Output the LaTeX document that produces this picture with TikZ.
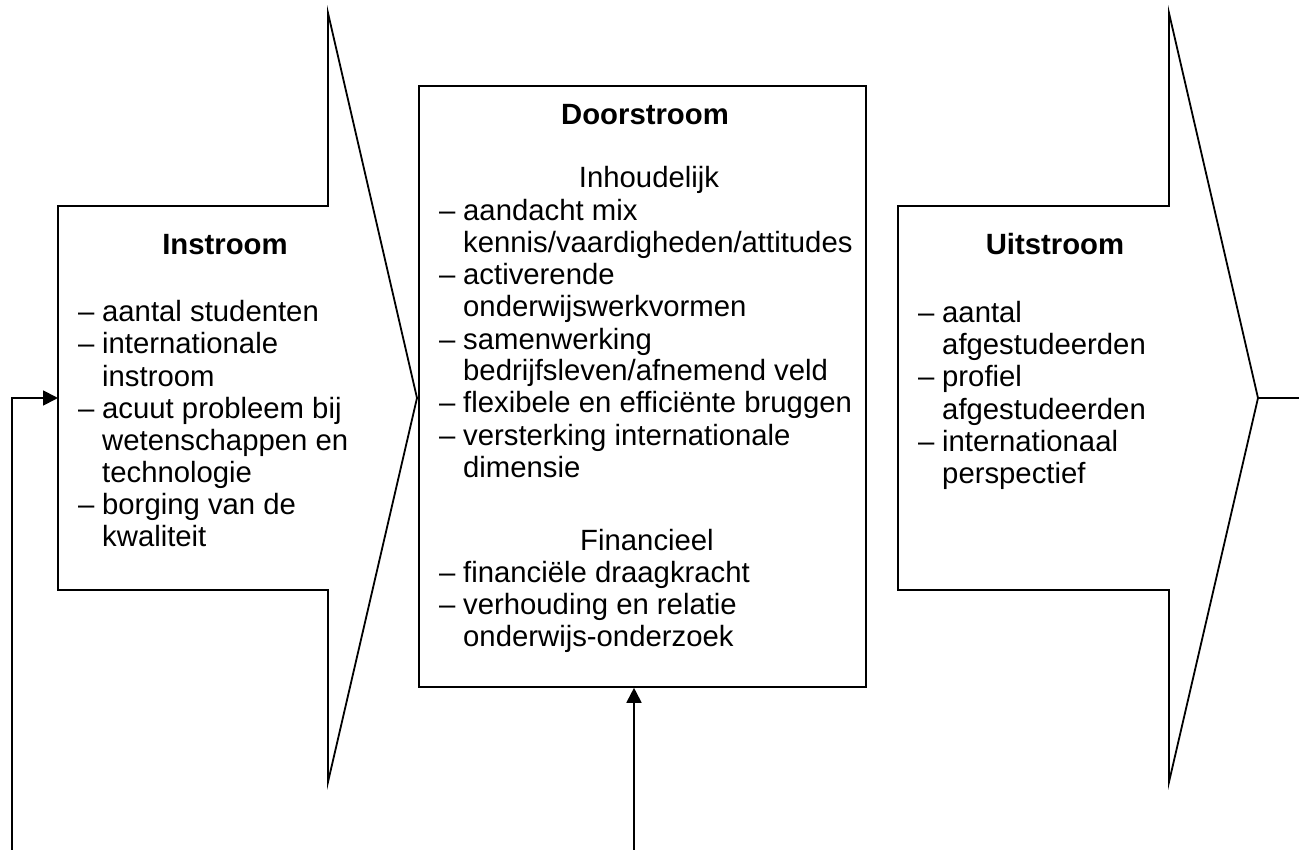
\documentclass[tikz,border=0pt]{standalone}
\usepackage{fontspec}
\setmainfont{Liberation Sans}
\usetikzlibrary{arrows.meta}
\newcommand\bul{\llap{\makebox[24pt][l]{–}}}
\begin{document}
\begin{tikzpicture}[x=1pt,y=-1pt,
  shapeline/.style={line width=1.8pt, line join=miter},
  txt/.style={inner sep=0pt, anchor=base west, font=\fontsize{29.3}{32}\selectfont},
  ttl/.style={inner sep=0pt, anchor=base, font=\fontsize{29.3}{32}\selectfont\bfseries},
  hd/.style={inner sep=0pt, anchor=base, font=\fontsize{29.3}{32}\selectfont},
  conn/.style={line width=1.8pt, -{Triangle[length=15pt,width=15pt]}}]
\useasboundingbox (0,0) rectangle (1299,850);

% left (Instroom) arrow shape
\draw[shapeline] (58,206) -- (328,206) -- (328,13) -- (417,398) -- (328,782) -- (328,590) -- (58,590) -- cycle;
% right (Uitstroom) arrow shape
\draw[shapeline] (898,206) -- (1169,206) -- (1169,13) -- (1258,398) coordinate (tipR) -- (1169,782) -- (1169,590) -- (898,590) -- cycle;
\coordinate (outR) at (1299,398);
\draw[shapeline] (tipR) -- (outR);

% middle box
\node[draw, line width=1.8pt, minimum width=447pt, minimum height=601pt, inner sep=0pt, anchor=north west] (mid) at (418,85) {};

% titles
\node[ttl] (tIn) at (225,255) {Instroom};
\node[ttl] (tDoor) at (645,125) {Doorstroom};
\node[hd] (tInh) at (649,188) {Inhoudelijk};
\node[hd] (tFin) at (647,550) {Financieel};
\node[ttl] (tUit) at (1055,255) {Uitstroom};

% left list
\foreach \t [count=\i from 0] in {\bul aantal studenten, \bul internationale, instroom, \bul acuut probleem bij, wetenschappen en, technologie, \bul borging van de, kwaliteit}
  \node[txt] (l\i) at (102,322+32*\i) {\t};

% middle list (inhoudelijk)
\foreach \t [count=\i from 0] in {\bul aandacht mix, kennis/vaardigheden/attitudes, \bul activerende, onderwijswerkvormen, \bul samenwerking, bedrijfsleven/afnemend veld, \bul flexibele en efficiënte bruggen, \bul versterking internationale, dimensie}
  \node[txt] (m\i) at (463,221+32*\i) {\t};

% middle list (financieel)
\foreach \t [count=\i from 0] in {\bul financiële draagkracht, \bul verhouding en relatie, onderwijs-onderzoek}
  \node[txt] (f\i) at (463,582+32*\i) {\t};

% right list
\foreach \t [count=\i from 0] in {\bul aantal, afgestudeerden, \bul profiel, afgestudeerden, \bul internationaal, perspectief}
  \node[txt] (r\i) at (942,323+32*\i) {\t};

% feedback connectors
\coordinate (b1) at (12,850);
\coordinate (inL) at (58,398);
\draw[conn] (b1) |- (inL);
\coordinate (b2) at (634,850);
\draw[conn] (b2) -- (b2 |- mid.south);
\end{tikzpicture}
\end{document}
